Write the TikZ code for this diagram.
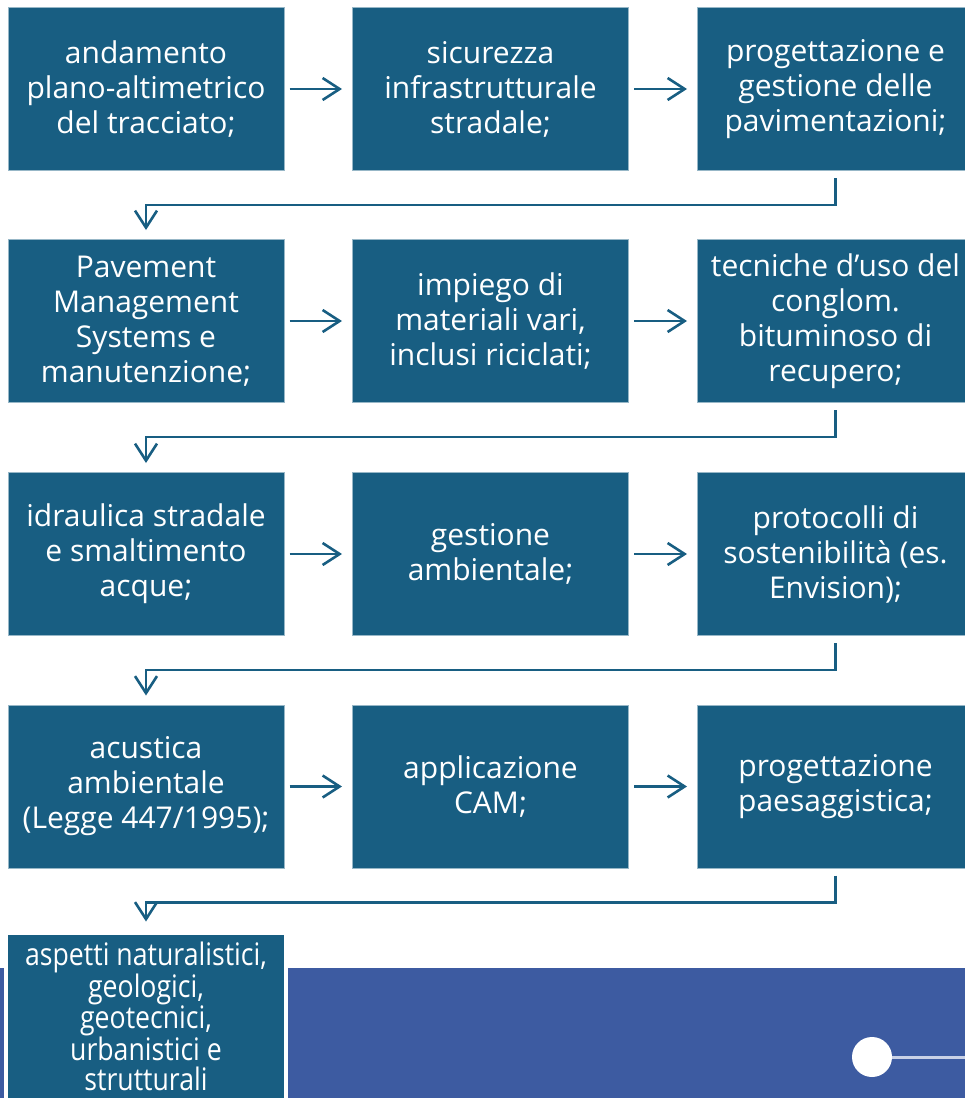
\documentclass[tikz,border=0pt]{standalone}
\usepackage{fontspec}
\setmainfont{Open Sans}
\newfontfamily\narrowfont[FakeStretch=0.86]{Open Sans}
\usetikzlibrary{arrows.meta}
\definecolor{boxblue}{HTML}{185E82}
\definecolor{bandblue}{HTML}{3D5BA1}
\definecolor{linegrey}{HTML}{C9D1E6}

\begin{document}
\begin{tikzpicture}[x=1pt,y=-1pt,>={Straight Barb[length=17pt,width=22pt]}]
\tikzstyle{box}=[rectangle,fill=boxblue,draw=boxblue!45!white,line width=1pt,minimum width=276pt,minimum height=163pt,inner sep=2pt,align=center,text=white,font=\fontsize{30}{35}\selectfont]
\tikzstyle{arr}=[->,draw=boxblue,line width=2.6pt]

\useasboundingbox (0,0) rectangle (965,1098);
\clip (0,0) rectangle (965,1098);

\fill[bandblue] (0,968) rectangle (965,1098);
\node[circle,fill=white,minimum size=40pt,inner sep=0pt] (dot) at (872,1057) {};
\coordinate (dotend) at (965,1057);
\draw[linegrey,line width=3pt] (dot) -- (dotend);

\node[box] (a1) at (146,89) {andamento\\plano-altimetrico\\del tracciato;};
\node[box] (a2) at (490.5,89) {sicurezza\\infrastrutturale\\stradale;};
\node[box] (a3) at (835.5,89) {progettazione e\\gestione delle\\pavimentazioni;};

\node[box] (b1) at (146,321) {Pavement\\Management\\Systems e\\manutenzione;};
\node[box] (b2) at (490.5,321) {impiego di\\materiali vari,\\inclusi riciclati;};
\node[box] (b3) at (835.5,321) {tecniche d’uso del\\conglom.\\bituminoso di\\recupero;};

\node[box] (c1) at (146,554) {idraulica stradale\\e smaltimento\\acque;};
\node[box] (c2) at (490.5,554) {gestione\\ambientale;};
\node[box] (c3) at (835.5,554) {protocolli di\\sostenibilità (es.\\Envision);};

\node[box] (d1) at (146,786.5) {acustica\\ambientale\\(Legge 447/1995);};
\node[box] (d2) at (490.5,786.5) {applicazione\\CAM;};
\node[box] (d3) at (835.5,786.5) {progettazione\\paesaggistica;};

\node[box,draw=white,line width=4pt,minimum width=280pt,minimum height=167pt,font=\narrowfont\fontsize{31}{30}\selectfont] (e1) at (146,1016) {aspetti naturalistici,\\geologici,\\geotecnici,\\urbanistici e\\strutturali};

\draw[arr,shorten <=5pt,shorten >=10pt] (a1) -- (a2);
\draw[arr,shorten <=5pt,shorten >=10pt] (a2) -- (a3);
\draw[arr,shorten <=5pt,shorten >=10pt] (b1) -- (b2);
\draw[arr,shorten <=5pt,shorten >=10pt] (b2) -- (b3);
\draw[arr,shorten <=5pt,shorten >=10pt] (c1) -- (c2);
\draw[arr,shorten <=5pt,shorten >=10pt] (c2) -- (c3);
\draw[arr,shorten <=5pt,shorten >=10pt] (d1) -- (d2);
\draw[arr,shorten <=5pt,shorten >=10pt] (d2) -- (d3);

\draw[arr] ([yshift=-7pt]a3.south) -- ++(0,27) -| ([yshift=9pt]b1.north);
\draw[arr] ([yshift=-7pt]b3.south) -- ++(0,27) -| ([yshift=9pt]c1.north);
\draw[arr] ([yshift=-7pt]c3.south) -- ++(0,27) -| ([yshift=9pt]d1.north);
\draw[arr] ([yshift=-7pt]d3.south) -- ++(0,27) -| ([yshift=9pt]e1.north);
\end{tikzpicture}
\end{document}
